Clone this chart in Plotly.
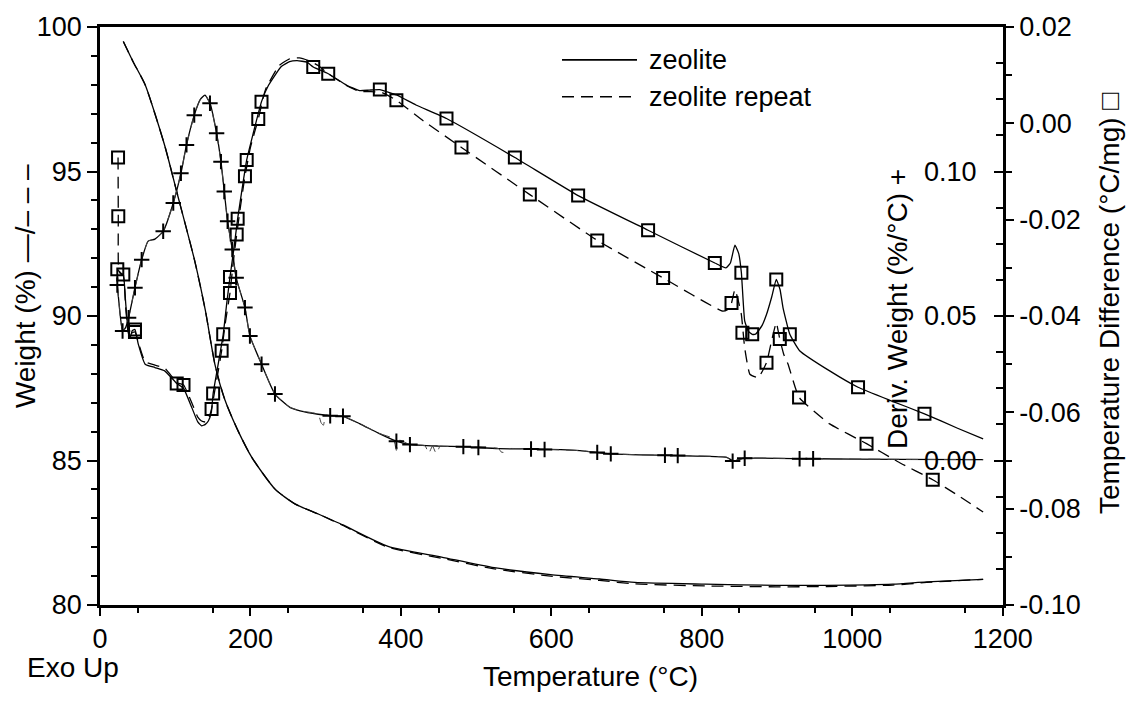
import numpy as np
import plotly.graph_objects as go

# ---------------- data ----------------
# Weight (%) vs temperature (C)
weight_T = [31, 44, 60, 86, 102, 126, 140, 153, 166, 184, 202, 233, 259, 290, 323, 383, 454, 524, 599,
            664, 711, 805, 898, 966, 1054, 1099, 1174]
weight_solid = [99.5, 98.8, 98.0, 95.9, 94.3, 91.9, 90.2, 88.3, 87.1, 86.0, 85.1, 84.0, 83.5, 83.15, 82.77,
                82.03, 81.66, 81.29, 81.05, 80.9, 80.78, 80.72, 80.68, 80.68, 80.72, 80.8, 80.89]
weight_repeat = [99.5, 98.8, 98.0, 95.9, 94.3, 91.9, 90.2, 88.3, 87.1, 86.0, 85.1, 84.0, 83.5, 83.15, 82.75,
                 82.0, 81.62, 81.25, 81.0, 80.85, 80.73, 80.66, 80.63, 80.64, 80.69, 80.78, 80.89]

# Derivative weight (%/C)
dtg_T = [23, 27, 30, 34, 38, 46.5, 55.4, 64, 73, 84, 97.4, 107.6, 115, 125.3, 133, 139.5, 146.2, 155, 160.8,
         165.2, 169.6, 175.8, 181, 192.7, 199.3, 214.8, 232.6, 252.5, 266, 290, 306, 323, 345.5, 370, 394,
         412, 450, 483, 530, 571, 638, 678, 766, 833, 842, 850, 857, 948, 1060, 1174]
dtg_solid = [0.0607, 0.050, 0.0448, 0.046, 0.0494, 0.0598, 0.0695, 0.0759, 0.0766, 0.0793, 0.0891, 0.0994,
             0.1092, 0.1195, 0.1248, 0.1264, 0.1236, 0.1132, 0.1034, 0.0931, 0.0828, 0.0730, 0.0632, 0.0529,
             0.0431, 0.0333, 0.0230, 0.0184, 0.0172, 0.0160, 0.0155, 0.0153, 0.0127, 0.0095, 0.0067, 0.0055,
             0.0050, 0.0048, 0.0041, 0.0040, 0.0034, 0.0023, 0.0017, 0.0011, -0.0002, 0.0004, 0.0008, 0.0006,
             0.0004, 0.0003]
dtg_rep_T = [23, 27, 30, 34, 38, 46.5, 55.4, 64, 73, 84, 97.4, 107.6, 115, 125.3, 133, 139.5, 146.2, 155,
             160.8, 165.2, 169.6, 175.8, 181, 192.7, 199.3, 214.8, 232.6, 252.5, 266, 290, 294, 297, 300, 306,
             323, 345.5, 370, 390, 394, 398, 412, 432, 437, 442, 447, 452, 457, 483, 530, 533, 536, 539, 571,
             638, 678, 766, 833, 842, 850, 857, 948, 1060, 1174]
dtg_repeat = [0.0607, 0.050, 0.0448, 0.046, 0.0494, 0.0598, 0.0695, 0.0759, 0.0766, 0.0793, 0.0891, 0.0994,
              0.1092, 0.1195, 0.1248, 0.1264, 0.1236, 0.1132, 0.1034, 0.0931, 0.0828, 0.0730, 0.0632, 0.0529,
              0.0431, 0.0333, 0.0230, 0.0184, 0.0172, 0.0160, 0.0130, 0.0122, 0.0158, 0.0155, 0.0153, 0.0127,
              0.0095, 0.0075, 0.0035, 0.0070, 0.0055, 0.0051, 0.0025, 0.0050, 0.0024, 0.0049, 0.0049, 0.0048,
              0.0041, 0.0030, 0.0028, 0.0040, 0.0040, 0.0034, 0.0023, 0.0017, 0.0011, -0.0002, 0.0004, 0.0008,
              0.0006, 0.0004, 0.0003]
dtg_mk_T = [23, 30, 38, 46.5, 55.4, 84, 97.4, 107.6, 115, 125.3, 146.2, 155, 160.8, 165.2, 169.6, 175.8, 181,
            192.7, 199.3, 214.8, 232.6, 306, 323, 394, 412, 483, 503, 573, 591, 661, 679, 751, 768, 841, 857,
            930, 948]
dtg_mk_D = [0.0607, 0.0448, 0.0494, 0.0598, 0.0695, 0.0793, 0.0891, 0.0994, 0.1092, 0.1195, 0.1236, 0.1132,
            0.1034, 0.0931, 0.0828, 0.0730, 0.0632, 0.0529, 0.0431, 0.0333, 0.0230, 0.0155, 0.0153, 0.0067,
            0.0055, 0.0048, 0.0045, 0.0040, 0.0038, 0.0028, 0.0023, 0.0018, 0.0017, -0.0002, 0.0008, 0.0006,
            0.0006]

# Temperature difference (C/mg)
dta_T = [23, 27, 31, 34, 37, 40, 43, 46.5, 51, 60, 73, 86, 102, 111, 122, 130, 135, 140, 144, 148, 150.4, 156,
         163.8, 168, 172.8, 178, 183, 189, 195, 203, 214.7, 224, 241, 252, 262, 275, 283.5, 303.4, 328, 345,
         358, 372, 394, 420, 460.6, 551.5, 635.6, 728.6, 817.3, 832, 838, 844, 849, 852.6, 857, 862, 867, 872,
         880, 886, 893, 899, 904, 908, 917, 930, 970, 1007.7, 1050, 1096, 1140, 1174]
dta_solid = [-0.0303, -0.0310, -0.0314, -0.0370, -0.0425, -0.0445, -0.0430, -0.0428, -0.0459, -0.0500,
             -0.0507, -0.0514, -0.0540, -0.0550, -0.0590, -0.0620, -0.0628, -0.0625, -0.0618, -0.0600, -0.0561,
             -0.0510, -0.0438, -0.0380, -0.0319, -0.0260, -0.0198, -0.0135, -0.0076, -0.0025, 0.0045, 0.0079,
             0.0118, 0.0128, 0.0130, 0.0127, 0.0117, 0.0103, 0.0079, 0.0068, 0.0069, 0.0070, 0.0059, 0.0038,
             0.0010, -0.0071, -0.0150, -0.0222, -0.0290, -0.0300, -0.0290, -0.0253, -0.0270, -0.0310, -0.0410,
             -0.0432, -0.0438, -0.0437, -0.0420, -0.0397, -0.0360, -0.0324, -0.0345, -0.0383, -0.0438, -0.0472,
             -0.0514, -0.0548, -0.0575, -0.0603, -0.0633, -0.0655]
dta_rep_T = [24, 24.3, 24.6, 27, 31, 34, 37, 40, 43, 46.5, 51, 60, 73, 86, 102, 111, 122, 130, 135, 140, 144,
             148.3, 152, 156, 161.7, 167, 172.8, 177, 181.7, 187, 192.7, 200, 210.4, 220, 238, 252, 265, 278,
             290, 303.4, 328, 345, 360, 375, 394, 430, 480.5, 571.4, 661, 748.6, 828, 836, 839.5, 844, 848,
             852.6, 857, 864, 875, 886, 893, 899, 903.7, 909, 914.7, 929.3, 970, 1019, 1060, 1107, 1140, 1174]
dta_repeat = [-0.0071, -0.0193, -0.0300, -0.0312, -0.0316, -0.0380, -0.0430, -0.0448, -0.0435, -0.0433,
              -0.0455, -0.0495, -0.0502, -0.0508, -0.0538, -0.0543, -0.0580, -0.0610, -0.0618, -0.0620, -0.0615,
              -0.0593, -0.0560, -0.0525, -0.0472, -0.0410, -0.0352, -0.0290, -0.0231, -0.0170, -0.0110, -0.0050,
              0.0009, 0.0070, 0.0120, 0.0134, 0.0136, 0.0130, 0.0120, 0.0103, 0.0078, 0.0066, 0.0066, 0.0064,
              0.0048, 0.0005, -0.0050, -0.0148, -0.0243, -0.0321, -0.0390, -0.0385, -0.0373, -0.0345, -0.0365,
              -0.0397, -0.0466, -0.0521, -0.0528, -0.0497, -0.0450, -0.0414, -0.0448, -0.0480, -0.0500, -0.0569,
              -0.0624, -0.0665, -0.0702, -0.0740, -0.0772, -0.0807]
dta_mk_solid_T = [23, 31, 46.5, 102, 150.4, 163.8, 172.8, 183, 195, 214.7, 283.5, 372, 460.6, 551.5, 635.6,
                  728.6, 817.3, 852.6, 867, 899, 917, 1007.7, 1096]
dta_mk_solid = [-0.0303, -0.0314, -0.0428, -0.0540, -0.0561, -0.0438, -0.0319, -0.0198, -0.0076, 0.0045,
                0.0117, 0.0070, 0.0010, -0.0071, -0.0150, -0.0222, -0.0290, -0.0310, -0.0438, -0.0324, -0.0438,
                -0.0548, -0.0603]
dta_mk_rep_T = [24, 24.3, 46.5, 111, 148.3, 161.7, 172.8, 181.7, 192.7, 210.4, 303.4, 394, 480.5, 571.4, 661,
                748.6, 839.5, 854, 886, 903.7, 929.3, 1019, 1107]
dta_mk_rep = [-0.0071, -0.0193, -0.0433, -0.0543, -0.0593, -0.0472, -0.0352, -0.0231, -0.0110, 0.0009, 0.0103,
              0.0048, -0.0050, -0.0148, -0.0243, -0.0321, -0.0373, -0.0435, -0.0497, -0.0448, -0.0569, -0.0665,
              -0.0740]

# tick labels
x_ticks = [0, 200, 400, 600, 800, 1000, 1200]
x_ticktext = ["0", "200", "400", "600", "800", "1000", "1200"]
w_ticks = [80, 85, 90, 95, 100]
w_ticktext = ["80", "85", "90", "95", "100"]
td_ticks = [-0.10, -0.08, -0.06, -0.04, -0.02, 0.00, 0.02]
td_ticktext = ["-0.10", "-0.08", "-0.06", "-0.04", "-0.02", "0.00", "0.02"]
dw_ticks = [0.00, 0.05, 0.10]
dw_ticktext = ["0.00", "0.05", "0.10"]

# ---------------- layout helpers ----------------
PL, PR, PT, PB = 100, 1003, 25, 605
W, H = 1133, 701
FONT = "Liberation Sans, Arial, Helvetica, sans-serif"


def fx(px):
    return (px - PL) / (PR - PL)


def fy(py):
    return (PB - py) / (PB - PT)


BLACK = "black"
LW = 1.3
DASH = "12px,7px"

fig = go.Figure()

# weight
fig.add_trace(go.Scatter(x=weight_T, y=weight_solid, mode="lines", yaxis="y",
                         line=dict(color=BLACK, width=LW, shape="spline", smoothing=0.6)))
fig.add_trace(go.Scatter(x=weight_T, y=weight_repeat, mode="lines", yaxis="y",
                         line=dict(color=BLACK, width=LW, dash=DASH, shape="spline", smoothing=0.6)))
# derivative weight
fig.add_trace(go.Scatter(x=dtg_T, y=dtg_solid, mode="lines", yaxis="y3",
                         line=dict(color=BLACK, width=LW, shape="spline", smoothing=0.5)))
fig.add_trace(go.Scatter(x=dtg_rep_T, y=dtg_repeat, mode="lines", yaxis="y3",
                         line=dict(color="#444", width=1.0, dash=DASH, shape="spline", smoothing=0.5)))
fig.add_trace(go.Scatter(x=dtg_mk_T, y=dtg_mk_D, mode="markers", yaxis="y3",
                         marker=dict(symbol="cross-thin", size=11, color=BLACK,
                                     line=dict(width=2, color=BLACK))))
# temperature difference
fig.add_trace(go.Scatter(x=dta_T, y=dta_solid, mode="lines", yaxis="y2",
                         line=dict(color=BLACK, width=LW, shape="spline", smoothing=0.4)))
fig.add_trace(go.Scatter(x=dta_rep_T, y=dta_repeat, mode="lines", yaxis="y2",
                         line=dict(color=BLACK, width=LW, dash=DASH, shape="spline", smoothing=0.4)))
fig.add_trace(go.Scatter(x=dta_mk_solid_T, y=dta_mk_solid, mode="markers", yaxis="y2",
                         marker=dict(symbol="square-open", size=12, color=BLACK,
                                     line=dict(width=2, color=BLACK))))
fig.add_trace(go.Scatter(x=dta_mk_rep_T, y=dta_mk_rep, mode="markers", yaxis="y2",
                         marker=dict(symbol="square-open", size=12, color=BLACK,
                                     line=dict(width=2, color=BLACK))))

tickfont = dict(family=FONT, size=27, color=BLACK)
AXW = 2.5

fig.update_layout(
    width=W, height=H,
    margin=dict(l=PL, r=W - PR, t=PT, b=H - PB, pad=0),
    paper_bgcolor="white", plot_bgcolor="white",
    showlegend=False,
    font=dict(family=FONT, color=BLACK),
    xaxis=dict(range=[0, 1200.4], tickmode="array", tickvals=x_ticks, ticktext=x_ticktext,
               ticks="outside", ticklen=8, tickwidth=2, tickcolor=BLACK,
               showline=True, linewidth=AXW, linecolor=BLACK, mirror=True,
               showgrid=False, zeroline=False, tickfont=tickfont, ticklabeloverflow="allow",
               minor=dict(tickmode="array", tickvals=list(np.arange(50, 1200, 100)),
                          ticks="outside", ticklen=5, tickwidth=2, tickcolor=BLACK, showgrid=False)),
    yaxis=dict(range=[80, 100], tickmode="array", tickvals=w_ticks, ticktext=w_ticktext,
               ticks="outside", ticklen=10, tickwidth=2, tickcolor=BLACK,
               showline=True, linewidth=AXW, linecolor=BLACK,
               showgrid=False, zeroline=False, tickfont=tickfont,
               minor=dict(tickmode="array", tickvals=[v for v in range(81, 100) if v % 5],
                          ticks="outside", ticklen=6, tickwidth=2, tickcolor=BLACK, showgrid=False)),
    yaxis2=dict(overlaying="y", side="right", anchor="x", range=[-0.10, 0.02],
                tickmode="array", tickvals=td_ticks, ticktext=td_ticktext,
                ticks="outside", ticklen=8, tickwidth=2, tickcolor=BLACK,
                showline=True, linewidth=AXW, linecolor=BLACK,
                showgrid=False, zeroline=False, tickfont=tickfont,
                minor=dict(tickmode="array", tickvals=list(np.round(np.arange(-0.09, 0.02, 0.02), 3)),
                           ticks="outside", ticklen=6, tickwidth=2, tickcolor=BLACK, showgrid=False)),
    yaxis3=dict(overlaying="y", side="right", anchor="free", position=1.0, range=[-0.05, 0.15],
                tickmode="array", tickvals=dw_ticks, showticklabels=False,
                ticks="inside", ticklen=9, tickwidth=2, tickcolor=BLACK, showline=False,
                showgrid=False, zeroline=False,
                minor=dict(tickmode="array",
                           tickvals=[v for v in np.round(np.arange(-0.0375, 0.15, 0.0125), 4)
                                     if abs(v / 0.05 - round(v / 0.05)) > 1e-6],
                           ticks="inside", ticklen=7, tickwidth=2, tickcolor=BLACK, showgrid=False)),
)

# derivative-axis tick labels, drawn inside the plot next to its ticks
for v, t in zip(dw_ticks, dw_ticktext):
    fig.add_annotation(xref="paper", yref="y3", x=fx(979), y=v, text=t, showarrow=False,
                       xanchor="right", yanchor="middle", font=tickfont)

title_font = dict(family=FONT, size=28, color=BLACK)
ann = [
    dict(text="Weight (%) —/– – –", x=fx(25), y=fy(285), textangle=-90),
    dict(text="Temperature Difference (°C/mg) □", x=fx(1109), y=fy(303), textangle=-90),
    dict(text="Deriv. Weight (%/°C) +", x=fx(897), y=fy(308), textangle=-90),
    dict(text="Exo Up", x=fx(73), y=fy(668), textangle=0),
    dict(text="Temperature (°C)", x=fx(590), y=fy(677), textangle=0),
]
for a in ann:
    fig.add_annotation(xref="paper", yref="paper", showarrow=False, font=title_font,
                       xanchor="center", yanchor="middle", **a)

# legend (drawn manually)
leg_font = dict(family=FONT, size=27, color=BLACK)
fig.add_shape(type="line", xref="paper", yref="paper", x0=fx(562), x1=fx(637), y0=fy(58), y1=fy(58),
              line=dict(color=BLACK, width=1.6))
fig.add_shape(type="line", xref="paper", yref="paper", x0=fx(562), x1=fx(637), y0=fy(95), y1=fy(95),
              line=dict(color=BLACK, width=1.6, dash=DASH))
fig.add_annotation(xref="paper", yref="paper", x=fx(647), y=fy(58), text="zeolite", showarrow=False,
                   xanchor="left", yanchor="middle", font=leg_font)
fig.add_annotation(xref="paper", yref="paper", x=fx(647), y=fy(95), text="zeolite repeat", showarrow=False,
                   xanchor="left", yanchor="middle", font=leg_font)

fig.write_html("out.html")
